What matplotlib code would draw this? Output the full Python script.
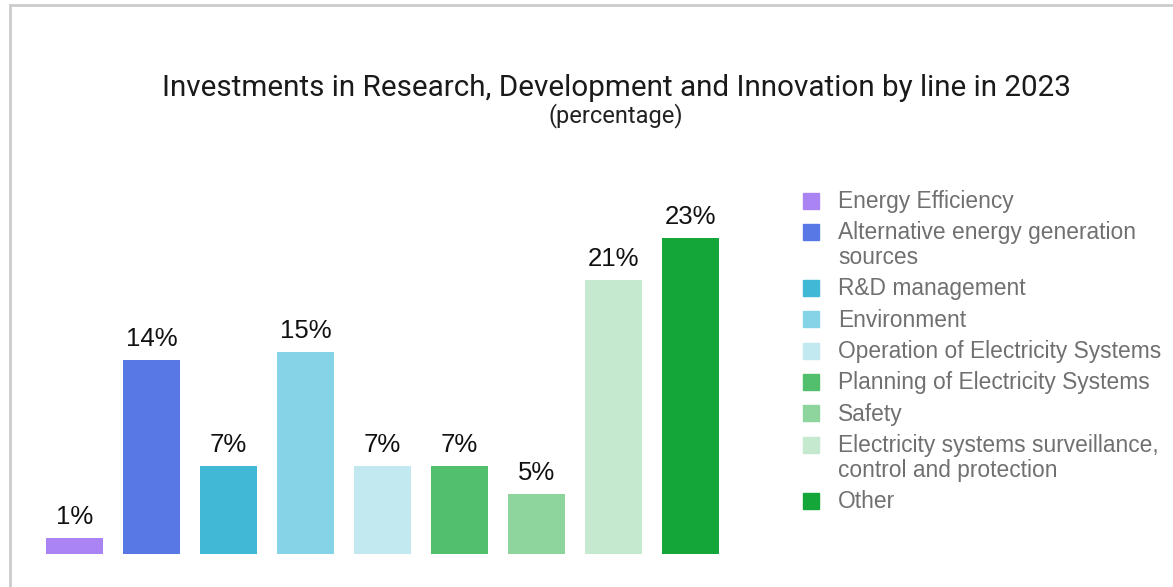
import matplotlib
matplotlib.use("Agg")
import matplotlib.pyplot as plt
from matplotlib.patches import Rectangle
from matplotlib.lines import Line2D

W, H = 1173, 587

# bar heights (percent), and the printed labels
categories = [
    "Energy Efficiency",
    "Alternative energy generation\nsources",
    "R&D management",
    "Environment",
    "Operation of Electricity Systems",
    "Planning of Electricity Systems",
    "Safety",
    "Electricity systems surveillance,\ncontrol and protection",
    "Other",
]
values = [1.13, 14.1, 6.4, 14.7, 6.4, 6.4, 4.35, 19.95, 23.0]
value_labels = ["1%", "14%", "7%", "15%", "7%", "7%", "5%", "21%", "23%"]
colors = ["#AB84F3", "#5878E6", "#41B9D6", "#84D3E6", "#C2E8F0",
          "#52BF6C", "#8ED49D", "#C5E9CF", "#14A638"]

title = "Investments in Research, Development and Innovation by line in 2023"
subtitle = "(percentage)"


def fx(px):
    return px / W


def fy(py):
    return 1 - py / H


fig = plt.figure(figsize=(W / 100, H / 100), dpi=100)
fig.patch.set_facecolor("white")

# the light frame at the top and left
fig.add_artist(Line2D([fx(10), fx(W)], [fy(4.5), fy(4.5)], color="#cccccc", lw=2))
fig.add_artist(Line2D([fx(10), fx(10)], [fy(4.5), 0], color="#cccccc", lw=2))

# axes placed so bars line up with the reference
ax_left, ax_right, ax_bottom = 36, 729, 553.5
ymax = 27
px_per_unit = 13.72
ax_top = ax_bottom - ymax * px_per_unit
ax = fig.add_axes([fx(ax_left), fy(ax_bottom), fx(ax_right - ax_left), (ax_bottom - ax_top) / H])

x = range(len(values))
bars = ax.bar(x, values, width=0.74, color=colors)
ax.set_xlim(-0.5, len(values) - 0.5)
ax.set_ylim(0, ymax)
ax.axis("off")

for i, (v, lab) in enumerate(zip(values, value_labels)):
    ax.annotate(lab, (i, v), xytext=(0, 14), textcoords="offset pixels",
                ha="center", va="baseline", fontsize=18.5, color="#111111",
                family="Liberation Sans")

# titles
fig.text(fx(616), fy(96), title, ha="center", va="baseline", fontsize=21.3,
         family="Roboto", color="#1a1a1a")
fig.text(fx(616), fy(122), subtitle, ha="center", va="baseline", fontsize=17,
         family="Roboto", color="#222222")

# legend drawn by hand
y = 200.5
for lab, c in zip(categories, colors):
    fig.add_artist(Rectangle((fx(803), fy(y + 8)), fx(16), 16 / H, color=c,
                             transform=fig.transFigure))
    lines = lab.split("\n")
    for k, line in enumerate(lines):
        fig.text(fx(838), fy(y + 7.5 + k * 24.5), line, ha="left", va="baseline",
                 fontsize=16.4, family="Liberation Sans", color="#707070")
    y += 31.4 + 24.5 * (len(lines) - 1)

fig.savefig("out.png", dpi=100, facecolor="white")
